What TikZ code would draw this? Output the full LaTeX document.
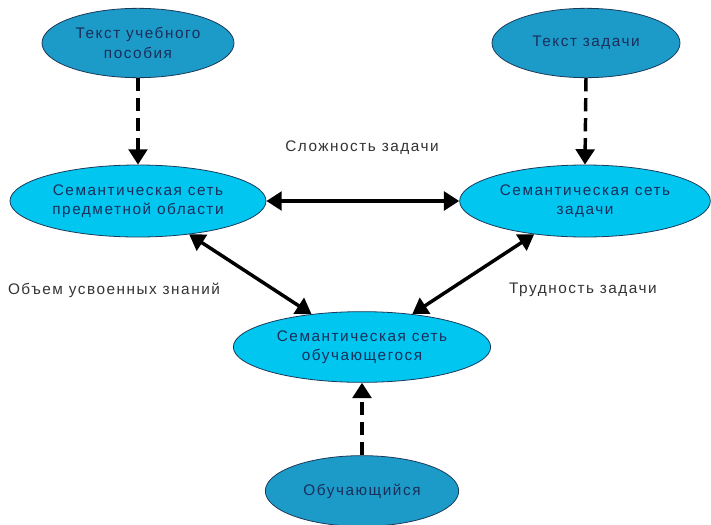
\documentclass[tikz,border=0pt]{standalone}
\usepackage{fontspec}
\setmainfont{Liberation Sans}[LetterSpace=10]
\usetikzlibrary{arrows.meta,shapes.geometric}
\definecolor{darkfill}{HTML}{1C9BC9}
\definecolor{lightfill}{HTML}{00C6F0}
\definecolor{edgeblue}{HTML}{1A3A5A}
\definecolor{txtblue}{HTML}{1A2E5A}
\definecolor{lbl}{HTML}{333333}
\tikzset{
  oval/.style={ellipse, draw=edgeblue, line width=0.6pt, inner sep=0pt, align=center,
     text=txtblue, font=\fontsize{11.5}{14.5}\selectfont},
  darkoval/.style={oval, fill=darkfill},
  lightoval/.style={oval, fill=lightfill},
  conn/.style={line width=2.6pt, -{Triangle[length=11.5pt,width=14pt]}},
  dconn/.style={line width=2.6pt, {Triangle[length=11.5pt,width=14pt]}-{Triangle[length=11.5pt,width=14pt]}},
  dashconn/.style={conn, dash pattern=on 10pt off 5pt},
  lab/.style={text=lbl, font=\fontsize{11.5}{13}\selectfont}
}
\begin{document}
\begin{tikzpicture}[x=0.75pt,y=-0.75pt]
\useasboundingbox (0,0) rectangle (711,525);
\node[darkoval, minimum width=144pt, minimum height=52pt] (tb) at (138,43) {Текст учебного\\пособия};
\node[darkoval, minimum width=141pt, minimum height=52pt] (tz) at (586,43) {Текст задачи};
\node[lightoval, minimum width=192pt, minimum height=54pt] (sp) at (138,201) {Семантическая сеть\\предметной области};
\node[lightoval, minimum width=188pt, minimum height=54pt] (sz) at (585,201) {Семантическая сеть\\задачи};
\node[lightoval, minimum width=193pt, minimum height=53pt] (so) at (362,347) {Семантическая сеть\\обучающегося};
\node[darkoval, minimum width=145pt, minimum height=53pt] (ob) at (362,491) {Обучающийся};

\draw[dashconn] (tb.south) -- (sp.north);
\draw[dashconn] (tz.south) -- (sz.north);
\draw[dashconn] (ob.north) -- (so.south);
\draw[dconn] (sp.east) -- (sz.west);
\draw[dconn] (sp) -- (so);
\draw[dconn] (sz) -- (so);

\node[lab] (l1) at (362,148) {Сложность задачи};
\node[lab] (l2) at (114,290) {Объем усвоенных знаний};
\node[lab] (l3) at (583,290) {Трудность задачи};
\end{tikzpicture}
\end{document}
